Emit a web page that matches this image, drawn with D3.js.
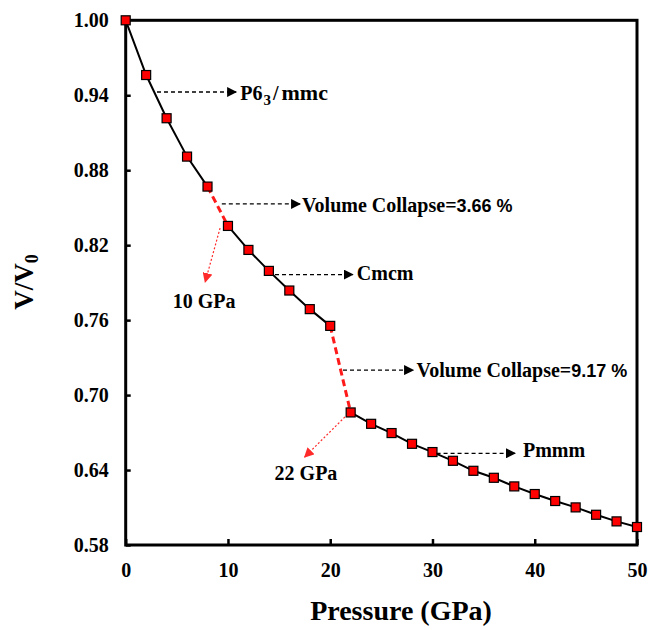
<!DOCTYPE html>
<meta charset="utf-8">
<style>
    body { margin: 0; background: #fff; }
    text { font-family: "Liberation Serif", "Times New Roman", serif; font-weight: bold; fill: #000; }
    .tick text { font-size: 20px; }
    .axis path { display: none; }
    .tick line { stroke: #000; stroke-width: 2.5px; }
    .frame { fill: none; stroke: #000; stroke-width: 3px; }
    .curve { fill: none; stroke: #000; stroke-width: 2px; }
    .jump { fill: none; stroke: #ff1a1a; stroke-width: 3px; stroke-dasharray: 7,4; }
    .point { fill: #ff0000; stroke: #000; stroke-width: 1.2px; }
    .note { font-size: 20px; }
    .pointer { stroke: #000; stroke-width: 1.3px; stroke-dasharray: 4,3; }
    .redpointer { stroke: #ff2a2a; stroke-width: 1.2px; stroke-dasharray: 2,2; }
</style>
<body>
<script src="https://d3js.org/d3.v7.min.js"></script>
<script>
    // pressure (GPa) and relative volume
    var pressure = [0, 2, 4, 6, 8, 10, 12, 14, 16, 18, 20, 22, 24, 26, 28, 30, 32, 34, 36, 38, 40, 42, 44, 46, 48, 50];
    var volRatio = [1.000, 0.9562, 0.9216, 0.8909, 0.8669, 0.8354, 0.8162, 0.7994, 0.7837, 0.7688, 0.7554,
                    0.6861, 0.6770, 0.6696, 0.6610, 0.6544, 0.6474, 0.6394, 0.6338, 0.6269, 0.6208,
                    0.6152, 0.6101, 0.6042, 0.5989, 0.5944];
    var xTicks = [0, 10, 20, 30, 40, 50];
    var yTicks = [0.58, 0.64, 0.70, 0.76, 0.82, 0.88, 0.94, 1.00];

    // index ranges of each phase, and the collapses between them
    var phases = [[0, 4], [5, 10], [11, 25]];
    var jumps = [[4, 5], [10, 11]];

    // black dashed pointers: [x from, x to, y], then label at [x, y]
    var pointers = [
        {x0: 3.06, x1: 10.8, y: 0.9426, tx: 11.2, ty: 0.9362, label: "P6", sub: "3", tail: "mmc"},
        {x0: 9.40, x1: 17.05, y: 0.8530, tx: 17.24, ty: 0.8468, label: "Volume Collapse=", num: "3.66 %"},
        {x0: 14.6, x1: 22.2, y: 0.7965, tx: 22.6, ty: 0.7920, label: "Cmcm"},
        {x0: 21.25, x1: 28.1, y: 0.7200, tx: 28.45, ty: 0.7147, label: "Volume Collapse=", num: "9.17 %"},
        {x0: 30.4, x1: 38.07, y: 0.6534, tx: 38.85, ty: 0.6504, label: "Pmmm"}
    ];
    // red dotted pointers to the transition pressures
    var transitions = [
        {x0: 9.23, y0: 0.8337, x1: 7.77, y1: 0.7905, tx: 7.67, ty: 0.7697, label: "10 GPa"},
        {x0: 21.44, y0: 0.6825, x1: 17.5, y1: 0.6504, tx: 17.63, ty: 0.6320, label: "22 GPa"}
    ];

    var W = 649, H = 630;
    var margin = {top: 20.3, right: 12, bottom: 85, left: 125.7};
    var w = W - margin.left - margin.right, h = H - margin.top - margin.bottom;

    var svg = d3.select("body").append("svg").attr("width", W).attr("height", H);
    var defs = svg.append("defs");
    [["arrowBlack", "#000"], ["arrowRed", "#ff2a2a"]].forEach(function(m) {
        defs.append("marker").attr("id", m[0])
            .attr("viewBox", "0 0 10 10").attr("refX", 9).attr("refY", 5)
            .attr("markerWidth", 10).attr("markerHeight", 10)
            .attr("markerUnits", "userSpaceOnUse").attr("orient", "auto")
            .append("path").attr("d", "M0,0L10,5L0,10Z").attr("fill", m[1]);
    });

    var g = svg.append("g").attr("transform", "translate(" + margin.left + "," + margin.top + ")");

    var x = d3.scaleLinear().domain([0, 50]).range([0, w]);
    var y = d3.scaleLinear().domain([0.58, 1.00]).range([h, 0]);

    g.append("g").attr("class", "axis").attr("transform", "translate(0," + h + ")")
        .call(d3.axisBottom(x).tickValues(xTicks).tickSize(-6).tickPadding(18).tickFormat(d3.format("d")));
    g.append("g").attr("class", "axis")
        .call(d3.axisLeft(y).tickValues(yTicks).tickSize(-5).tickPadding(17).tickFormat(d3.format(".2f")));

    g.append("rect").attr("class", "frame").attr("width", w).attr("height", h);

    var line = d3.line().x(function(i) { return x(pressure[i]); }).y(function(i) { return y(volRatio[i]); });

    phases.forEach(function(p) {
        g.append("path").attr("class", "curve").attr("d", line(d3.range(p[0], p[1] + 1)));
    });
    jumps.forEach(function(j) {
        g.append("path").attr("class", "jump").attr("d", line(j));
    });

    var s = 9;
    g.selectAll(".point").data(pressure).enter().append("rect").attr("class", "point")
        .attr("x", function(d) { return x(d) - s / 2; })
        .attr("y", function(d, i) { return y(volRatio[i]) - s / 2; })
        .attr("width", s).attr("height", s);

    pointers.forEach(function(p) {
        g.append("line").attr("class", "pointer")
            .attr("x1", x(p.x0)).attr("x2", x(p.x1)).attr("y1", y(p.y)).attr("y2", y(p.y))
            .attr("marker-end", "url(#arrowBlack)");
        var t = g.append("text").attr("class", "note").attr("x", x(p.tx)).attr("y", y(p.ty)).text(p.label);
        if (p.sub) {
            t.append("tspan").attr("font-size", "15px").attr("dy", 5).attr("dx", 1).text(p.sub);
            t.append("tspan").attr("dy", -5).attr("dx", 2).text("/");
            t.append("tspan").attr("dx", 3).attr("font-size", "22px").text(p.tail);
        }
        if (p.num) {
            t.append("tspan").attr("font-family", "'Liberation Sans', Arial, sans-serif")
                .attr("font-size", "18px").text(p.num);
        }
    });

    transitions.forEach(function(p) {
        g.append("line").attr("class", "redpointer")
            .attr("x1", x(p.x0)).attr("y1", y(p.y0)).attr("x2", x(p.x1)).attr("y2", y(p.y1))
            .attr("marker-end", "url(#arrowRed)");
        g.append("text").attr("class", "note").attr("x", x(p.tx)).attr("y", y(p.ty))
            .attr("text-anchor", "middle").text(p.label);
    });

    svg.append("text").attr("x", 401).attr("y", 620).attr("text-anchor", "middle")
        .style("font-size", "28px").text("Pressure (GPa)");

    var yl = svg.append("text").attr("transform", "translate(33,282) rotate(-90)")
        .attr("text-anchor", "middle").style("font-size", "27px").text("V/V");
    yl.append("tspan").attr("font-size", "18px").attr("dy", 5).text("0");
</script>
</body>
